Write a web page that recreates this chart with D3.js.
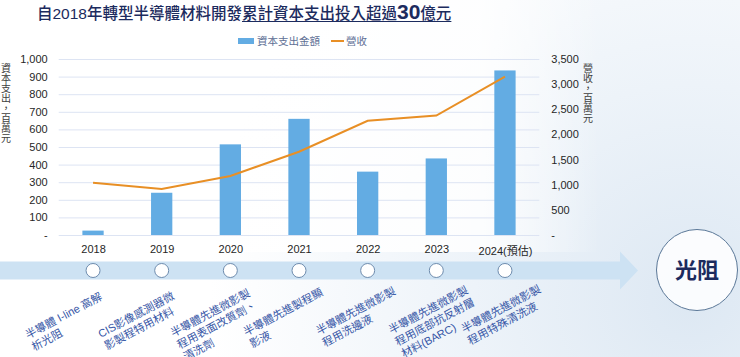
<!DOCTYPE html>
<html><head><meta charset="utf-8">
<script src="https://cdn.jsdelivr.net/npm/d3@7"></script>
<style>
html,body{margin:0;padding:0;background:#fff;}
svg{display:block;font-family:"Liberation Sans",Arial,"Noto Sans CJK TC",sans-serif;}
</style>
</head><body>
<svg id="c" width="740" height="357"></svg>
<script>
// ---- data ----
const categories = ["2018", "2019", "2020", "2021", "2022", "2023", "2024(預估)"];
const capex = [25, 240, 515, 660, 360, 435, 935];          // 資本支出金額, 百萬元
const revenue = [1040, 915, 1175, 1655, 2270, 2375, 3150];  // 營收, 百萬元
const leftTicks = [0, 100, 200, 300, 400, 500, 600, 700, 800, 900, 1000];
const rightTicks = [0, 500, 1000, 1500, 2000, 2500, 3000, 3500];
const seriesNames = ["資本支出金額", "營收"];
const leftTitle = "資本支出，百萬元";
const rightTitle = "營收，百萬元";
const titleA = "自2018年轉型半導體材料開發";
const titleB = "累計資本支出投入超過";
const titleNum = "30";
const titleC = "億元";
const endLabel = "光阻";
const milestones = [
  ["半導體 I-line 高解", "析光阻"],
  ["CIS影像感測器微", "影製程特用材料"],
  ["半導體先進微影製", "程用表面改質劑、", "清洗劑"],
  ["半導體先進製程顯", "影液"],
  ["半導體先進微影製", "程用洗邊液"],
  ["半導體先進微影製", "程用底部抗反射層", "材料(BARC)"],
  ["半導體先進微影製", "程用特殊清洗液"]
];

// ---- layout ----
const svg = d3.select("#c");
const W = 740, H = 357;
const plotL = 58.7, plotR = 539.3, plotT = 59, plotB = 235;
const C = {bar:"#63ace3", line:"#e88f25", grid:"#dde4f3", text:"#262626",
           navy:"#1c2b5e", label:"#3656a6", band:"#cde2f3"};

const defs = svg.append("defs");
const rg = defs.append("radialGradient").attr("id","bg")
  .attr("gradientUnits","userSpaceOnUse").attr("cx",690).attr("cy",300).attr("r",480);
rg.append("stop").attr("offset",0).attr("stop-color","#dde8f3");
rg.append("stop").attr("offset",0.45).attr("stop-color","#edf3f9");
rg.append("stop").attr("offset",1).attr("stop-color","#ffffff");
svg.append("rect").attr("width",W).attr("height",H).attr("fill","url(#bg)");
const wg = defs.append("linearGradient").attr("id","wg").attr("x1",0).attr("x2",1);
wg.append("stop").attr("offset",0).attr("stop-color","#fff").attr("stop-opacity",1);
wg.append("stop").attr("offset",0.8).attr("stop-color","#fff").attr("stop-opacity",0.85);
wg.append("stop").attr("offset",1).attr("stop-color","#fff").attr("stop-opacity",0);
svg.append("rect").attr("x",0).attr("y",0).attr("width",600).attr("height",252).attr("fill","url(#wg)");

const x = d3.scalePoint().domain(categories).range([plotL, plotR]).padding(0.5);
const step = x.step();
const yL = d3.scaleLinear().domain([0, 1000]).range([plotB, plotT]);
const yR = d3.scaleLinear().domain([0, 3500]).range([plotB, plotT]);
const fmt = v => v === 0 ? "-" : d3.format(",")(v);

// title
const title = svg.append("text").attr("x",37).attr("y",19)
  .attr("font-size",15.5).attr("fill",C.navy).attr("font-weight",500);
title.append("tspan").text(titleA);
title.append("tspan").text(titleB);
title.append("tspan").attr("font-size",21).attr("font-weight",900)
  .attr("font-family","'Liberation Sans',Arial,sans-serif").text(titleNum);
title.append("tspan").text(titleC);
const tNode = title.node();
const ulStart = tNode.getStartPositionOfChar(titleA.length).x;
const bb = tNode.getBBox();
svg.append("line").attr("x1",ulStart).attr("x2",bb.x+bb.width)
  .attr("y1",21.5).attr("y2",21.5).attr("stroke",C.navy).attr("stroke-width",1.2);

// legend
const lg = svg.append("g").attr("font-size",10.5).attr("fill","#5e6f95");
lg.append("rect").attr("x",238).attr("y",38).attr("width",16).attr("height",6).attr("fill",C.bar);
lg.append("text").attr("x",257).attr("y",45).text(seriesNames[0]);
lg.append("line").attr("x1",331).attr("x2",344).attr("y1",41).attr("y2",41)
  .attr("stroke",C.line).attr("stroke-width",2);
lg.append("text").attr("x",346).attr("y",45).text(seriesNames[1]);

// grid
svg.append("g").selectAll("line").data(leftTicks).join("line")
  .attr("x1",plotL).attr("x2",plotR)
  .attr("y1",d=>yL(d)+0.5).attr("y2",d=>yL(d)+0.5)
  .attr("stroke",C.grid).attr("stroke-width",1);

// axes
const axL = svg.append("g").attr("transform",`translate(${plotL},0)`)
  .call(d3.axisLeft(yL).tickValues(leftTicks).tickFormat(fmt).tickSize(0).tickPadding(11));
const axR = svg.append("g").attr("transform",`translate(${plotR},0)`)
  .call(d3.axisRight(yR).tickValues(rightTicks).tickFormat(fmt).tickSize(0).tickPadding(12));
[axL, axR].forEach(a => {
  a.select(".domain").remove();
  a.selectAll("text").attr("font-size",11).attr("fill",C.text)
    .attr("font-family","'Liberation Sans',Arial,sans-serif");
});
const axB = svg.append("g").attr("transform",`translate(0,${plotB})`)
  .call(d3.axisBottom(x).tickSize(0).tickPadding(10));
axB.select(".domain").remove();
axB.selectAll("text").attr("font-size",11).attr("fill",C.text)
  .attr("font-family","'Liberation Sans',Arial,'Noto Sans CJK TC',sans-serif")
  .attr("dy",(d,i)=>i===categories.length-1 ? "0.95em" : "0.71em");

// axis titles (vertical writing)
function vtitle(str, cx, y0) {
  svg.append("text").attr("x",cx).attr("y",y0)
    .style("writing-mode","vertical-rl").style("text-orientation","upright")
    .attr("font-size",10).attr("fill","#404040")
    .attr("font-family","'Noto Sans CJK TC',sans-serif").text(str);
}
vtitle(leftTitle, 6, 63);
vtitle(rightTitle, 588, 63);

// bars
const bw = step * 0.31;
svg.append("g").selectAll("rect").data(capex).join("rect")
  .attr("x",(d,i)=>x(categories[i]) - bw/2).attr("width",bw)
  .attr("y",d=>yL(d)).attr("height",d=>yL(0)-yL(d)).attr("fill",C.bar);

// revenue line
svg.append("path").datum(revenue)
  .attr("d", d3.line().x((d,i)=>x(categories[i])).y(d=>yR(d)))
  .attr("fill","none").attr("stroke",C.line).attr("stroke-width",2);

// timeline band + arrow
const bandY = 270.5;
const arrow = d3.path();
arrow.moveTo(0, bandY-9); arrow.lineTo(620, bandY-9); arrow.lineTo(620, bandY-19);
arrow.lineTo(638, bandY); arrow.lineTo(620, bandY+19); arrow.lineTo(620, bandY+9);
arrow.lineTo(0, bandY+9); arrow.closePath();
svg.append("path").attr("d",arrow.toString()).attr("fill",C.band);

svg.append("g").selectAll("circle").data(categories).join("circle")
  .attr("cx",d=>x(d)).attr("cy",bandY).attr("r",7)
  .attr("fill","#fff").attr("stroke","#6e8cae").attr("stroke-width",1);

// end circle
svg.append("circle").attr("cx",697).attr("cy",270).attr("r",40.5)
  .attr("fill","#fff").attr("fill-opacity",0.85).attr("stroke","#5b7898").attr("stroke-width",1);
svg.append("text").attr("x",697).attr("y",278).attr("text-anchor","middle")
  .attr("font-size",22).attr("font-weight",700).attr("fill",C.navy)
  .attr("font-family","'Noto Sans CJK TC',sans-serif").text(endLabel);

// milestone labels (rotated)
const lx = d3.scalePoint().domain(categories).range([28, 464]);
const ly = d3.scalePoint().domain(categories).range([339, 333]);
const ml = svg.append("g").selectAll("text").data(milestones).join("text")
  .attr("transform",(d,i)=>`translate(${lx(categories[i])},${ly(categories[i])}) rotate(-28)`)
  .attr("font-size",11).attr("fill",C.label);
ml.selectAll("tspan").data(d=>d).join("tspan")
  .attr("x",0).attr("dy",(d,i)=>i===0?0:13.5).text(d=>d);
</script>
</body></html>
